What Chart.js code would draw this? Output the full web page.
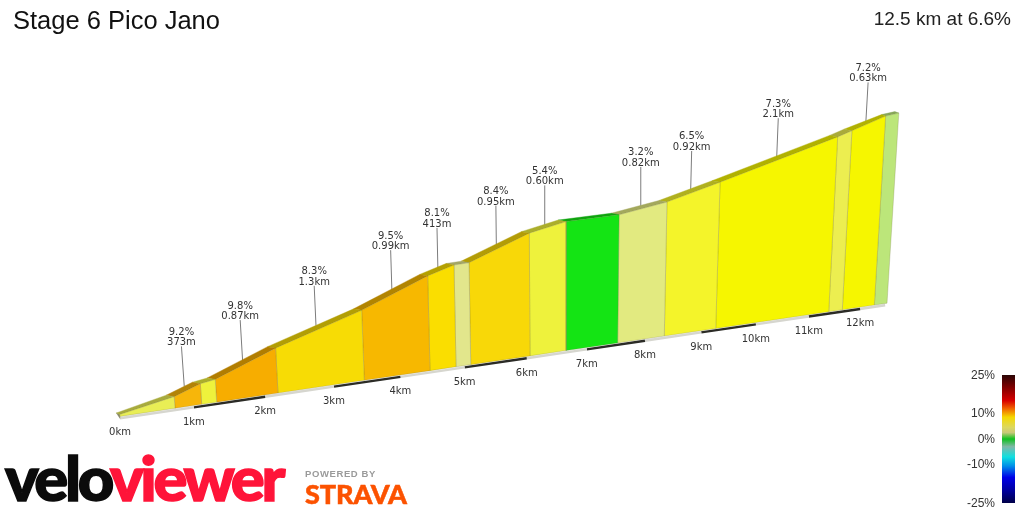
<!DOCTYPE html>
<html><head><meta charset="utf-8">
<script src="https://cdn.jsdelivr.net/npm/chart.js@4"></script>
<style>
html,body{margin:0;padding:0;background:#fff;width:1024px;height:512px;overflow:hidden}
#wrap{position:relative;width:1024px;height:512px}
canvas{position:absolute;left:0;top:0}
.t{position:absolute;white-space:nowrap;font-family:"Liberation Sans",Arial,sans-serif;color:#222}
#bar{position:absolute;left:1002px;top:375px;width:13px;height:128px;
background:linear-gradient(to bottom,#2a0505 0%,#7a0000 9%,#d80000 20%,#f06000 26%,#f5d800 33%,#dcd860 41%,#c8c878 45%,#10c020 50%,#80b8a8 56%,#10e0e0 64%,#0090e8 71%,#0000e8 80%,#0000a0 90%,#000048 100%)}
.cb{position:absolute;right:29px;font:12px "Liberation Sans",Arial,sans-serif;color:#333;transform:translateY(-50%)}
</style></head><body>
<div id="wrap">
<canvas id="c" width="1024" height="512"></canvas>
<div class="t" style="left:13px;top:5px;font-size:25.5px;line-height:30px;color:#111">Stage 6 Pico Jano</div>
<div class="t" style="right:13px;top:8px;font-size:19px;line-height:22px">12.5 km at 6.6%</div>
<div id="bar"></div>
<div class="cb" style="top:375px">25%</div>
<div class="cb" style="top:413px">10%</div>
<div class="cb" style="top:439px">0%</div>
<div class="cb" style="top:464px">-10%</div>
<div class="cb" style="top:503px">-25%</div>
<div class="t" id="velo" style="left:5px;top:441px;font-family:Lato,'Liberation Sans',sans-serif;font-weight:900;font-size:66px;line-height:80px;letter-spacing:-3.5px;transform-origin:left top;transform:scale(.96,.93);-webkit-text-stroke:1.6px currentColor"><span style="color:#0b0b0b">velo</span><span style="color:#ff1439">viewer</span></div>
<div class="t" style="left:305px;top:468px;font-size:9.5px;line-height:12px;font-weight:700;letter-spacing:.6px;color:#9a9a9a">POWERED BY</div>
<div class="t" style="left:305px;top:480px;font-family:Lato,'Liberation Sans',sans-serif;font-size:27px;line-height:27px;font-weight:900;letter-spacing:-.1px;color:#fc5200;-webkit-text-stroke:.5px #fc5200">STRAVA</div>
</div>
<script>
// Distance (km) at each gradient-segment boundary
const segmentKm = [0,0.741,1.108,1.316,2.184,3.452,4.457,4.864,5.097,6.054,6.651,7.527,8.340,9.262,11.385,11.65,12.283,12.537];
// Elevation gain (m) at each boundary
const boundaryElev = [7,42,75,83,167,266,366,396,398,487,517,521,552,611,755,776,827,835];
// Gradient colour of each segment
const segmentColors = ['#e9ee55','#f7b60a','#eef23c','#f7ad00','#f7dc05','#f7b800','#fade00','#e2e68c','#f8d808','#eef23c','#14e414','#e2ea80','#f4f42a','#f6f600','#ecee50','#f6f600','#bce67a'];
// Callouts
const calloutSegment = [1,3,4,5,6,8,9,11,12,13,15];
const calloutGrade = ['9.2%','9.8%','8.3%','9.5%','8.1%','8.4%','5.4%','3.2%','6.5%','7.3%','7.2%'];
const calloutLength = ['373m','0.87km','1.3km','0.99km','413m','0.95km','0.60km','0.82km','0.92km','2.1km','0.63km'];
// Distance axis
const kmTicks = [0,1,2,3,4,5,6,7,8,9,10,11,12];
const kmLabels = ['0km','1km','2km','3km','4km','5km','6km','7km','8km','9km','10km','11km','12km'];
const kmEnd = 12.5;

// Oblique perspective view of the (km, elevation) profile
const C = 0.01833;
function baseX(k){return 120 + 75.24*k/(1+C*k);}
function baseY(x){return 407.3 - (x-194)*0.1476;}
function proj(k,e,rx,ry){
  const bx = baseX(k), H = e*0.28/(1+C*k);
  return {x: bx + (bx-560)*0.00019*H + (rx||0), y: baseY(bx) - 1.8 - H + (ry||0)};
}
const rearX=k=>k<0.5?-3.5-9*k:(k>12?-4:-8), REAR_Y=-1.5;
const leadY=k=>-1-3.2*Math.max(0,1-k/9);
function darken(hex,f){
  const n=parseInt(hex.slice(1),16);
  const c=[n>>16,(n>>8)&255,n&255].map(v=>Math.round(v*f));
  return `rgb(${c[0]},${c[1]},${c[2]})`;
}
const datasets=[];
segmentColors.forEach((col,i)=>{
  const a=segmentKm[i],b=segmentKm[i+1],ea=boundaryElev[i],eb=boundaryElev[i+1];
  datasets.push({label:'face'+i,data:[proj(a,0),proj(a,ea),proj(b,eb),proj(b,0),proj(a,0)],
    showLine:true,fill:'shape',backgroundColor:col,borderColor:'rgba(110,110,60,.35)',borderWidth:.7,pointRadius:0,tension:0});
  const dk=darken(col,.72);
  datasets.push({label:'road'+i,data:[proj(a,ea),proj(b,eb),proj(b,eb,rearX(b),REAR_Y),proj(a,ea,rearX(a),REAR_Y),proj(a,ea)],
    showLine:true,fill:'shape',backgroundColor:dk,borderColor:dk,borderWidth:.4,pointRadius:0,tension:0});
});
// Start cap of the road
{
  const a=boundaryElev[0];
  datasets.push({label:'cap',data:[proj(0,0,0,2),proj(0,a),proj(0,a,rearX(0),REAR_Y),proj(0,0,0,2)],
    showLine:true,fill:'shape',backgroundColor:'#85856a',borderColor:'#85856a',borderWidth:.4,pointRadius:0,tension:0});
}
// Alternating distance strip
const stripStops=[...kmTicks,kmEnd];
for(let i=0;i<stripStops.length-1;i++){
  const p=k=>{const x=baseX(k);return {x,y:baseY(x)};};
  datasets.push({label:'km'+i,data:[p(stripStops[i]),p(stripStops[i+1])],showLine:true,fill:false,
    borderColor:i%2?'#2b2b26':'#d6d6cf',borderWidth:2.4,pointRadius:0,tension:0,borderCapStyle:'butt'});
}
// Callout leaders
const LIFT=40;
const anchors=calloutSegment.map(s=>{
  const k=(segmentKm[s]+segmentKm[s+1])/2,e=(boundaryElev[s]+boundaryElev[s+1])/2;
  return {k,e,top:e+LIFT/0.28*(1+C*k)};
});
anchors.forEach((a,i)=>{
  datasets.push({label:'lead'+i,data:[proj(a.k,a.e,-3,leadY(a.k)),proj(a.k,a.top,-3,leadY(a.k))],showLine:true,fill:false,
    borderColor:'#7c7c7c',borderWidth:1,pointRadius:0,tension:0});
});
const textPlugin={id:'profileText',afterDatasetsDraw(chart){
  const {ctx,scales:{x,y}}=chart;
  ctx.save();ctx.font='10px "DejaVu Sans"';ctx.fillStyle='#333';ctx.textAlign='center';ctx.textBaseline='alphabetic';
  anchors.forEach((a,i)=>{
    const p=proj(a.k,a.top,-3,leadY(a.k)),px=x.getPixelForValue(p.x),py=y.getPixelForValue(p.y);
    ctx.fillText(calloutGrade[i],px,py-11.5);
    ctx.fillText(calloutLength[i],px,py-1);
  });
  kmTicks.forEach((k,i)=>{
    const bx=baseX(k),by=baseY(bx);
    ctx.fillText(kmLabels[i],x.getPixelForValue(bx),y.getPixelForValue(by)+(i?17.5:16.5));
  });
  ctx.restore();
}};
new Chart(document.getElementById('c'),{
  type:'scatter',
  data:{datasets},
  options:{responsive:false,animation:false,devicePixelRatio:1,
    layout:{padding:0},
    plugins:{legend:{display:false},tooltip:{enabled:false},title:{display:false}},
    events:[],
    scales:{x:{type:'linear',display:false,min:0,max:1024},y:{type:'linear',display:false,min:0,max:512,reverse:true}}
  },
  plugins:[textPlugin]
});
</script>
</body></html>
